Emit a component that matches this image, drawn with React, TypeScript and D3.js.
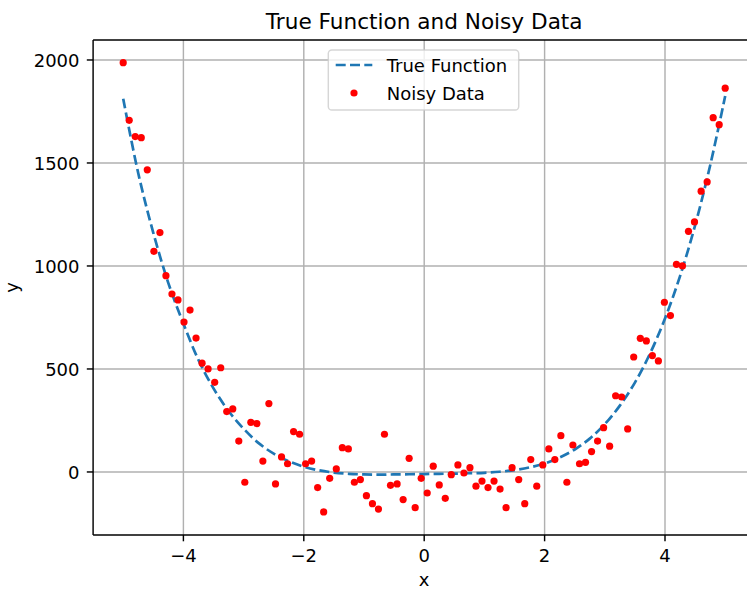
import React from 'react';
import * as d3 from 'd3';

// ---- data ----
const noisyX = [
  -5.0, -4.9, -4.8, -4.7, -4.6, -4.49, -4.39, -4.29, -4.19, -4.09,
  -3.99, -3.89, -3.79, -3.69, -3.59, -3.48, -3.38, -3.28, -3.18, -3.08,
  -2.98, -2.88, -2.78, -2.68, -2.58, -2.47, -2.37, -2.27, -2.17, -2.07,
  -1.97, -1.87, -1.77, -1.67, -1.57, -1.46, -1.36, -1.26, -1.16, -1.06,
  -0.96, -0.86, -0.76, -0.66, -0.56, -0.45, -0.35, -0.25, -0.15, -0.05,
  0.05, 0.15, 0.25, 0.35, 0.45, 0.56, 0.66, 0.76, 0.86, 0.96,
  1.06, 1.16, 1.26, 1.36, 1.46, 1.57, 1.67, 1.77, 1.87, 1.97,
  2.07, 2.17, 2.27, 2.37, 2.47, 2.58, 2.68, 2.78, 2.88, 2.98,
  3.08, 3.18, 3.28, 3.38, 3.48, 3.59, 3.69, 3.79, 3.89, 3.99,
  4.09, 4.19, 4.29, 4.39, 4.49, 4.6, 4.7, 4.8, 4.9, 5.0,
];
const noisyY = [
  1987, 1707, 1628, 1623, 1467, 1071, 1162, 953, 864, 835,
  728, 786, 650, 528, 500, 435, 506, 293, 306, 150,
  -50, 241, 235, 53, 332, -58, 73, 40, 196, 183,
  40, 53, -76, -194, -31, 15, 118, 112, -50, -37,
  -115, -154, -180, 183, -65, -58, -134, 66, -173, -31,
  -102, 28, -63, -128, -13, 34, -5, 21, -69, -44,
  -76, -44, -83, -173, 21, -37, -154, 60, -69, 34,
  112, 60, 176, -50, 131, 40, 47, 99, 150, 215,
  125, 370, 364, 209, 558, 649, 636, 565, 539, 824,
  759, 1008, 1000, 1168, 1214, 1363, 1408, 1720, 1686, 1863,
];
const trueX = [
  -5, -4.75, -4.5, -4.25, -4, -3.75, -3.5, -3.25, -3, -2.75, -2.5, -2.25, -2, -1.75,
  -1.5, -1.25, -1, -0.75, -0.5, -0.25, 0, 0.25, 0.5, 0.75, 1, 1.25, 1.5, 1.75,
  2, 2.25, 2.5, 2.75, 3, 3.25, 3.5, 3.75, 4, 4.25, 4.5, 4.75, 5,
];
const trueY = [
  1812, 1450, 1161, 917, 720, 544, 406, 296, 210, 140, 89, 52, 25, 8,
  -3, -9, -12, -13, -12, -11, -10, -9, -8, -6, -4, 1, 9, 22,
  41, 70, 109, 162, 232, 322, 434, 574, 745, 951, 1197, 1488, 1825,
];
const xTicks = [-4, -2, 0, 2, 4];
const yTicks = [0, 500, 1000, 1500, 2000];
const titleText = 'True Function and Noisy Data';
const xLabel = 'x';
const yLabel = 'y';
const legendLabels = ['True Function', 'Noisy Data'];

const W = 747;
const H = 590;
const L = 93.1;
const R = 755.3;
const T = 40;
const B = 535;
const FONT = '"DejaVu Sans", sans-serif';
const BLUE = '#1f77b4';

const fmt = (v: number) => (v < 0 ? '\u2212' + Math.abs(v) : String(v));

export default function App() {
  const x = d3.scaleLinear().domain([-5.5, 5.5]).range([L, R]);
  const y = d3.scaleLinear().domain([-306, 2097]).range([B, T]);
  const line = d3
    .line<number>()
    .x((_, i) => x(trueX[i]))
    .y((d) => y(d))
    .curve(d3.curveCatmullRom.alpha(0.5));
  const pathD = line(trueY) || '';

  return (
    <svg
      width={W}
      height={H}
      style={{ position: 'absolute', left: 0, top: 0, background: '#fff' }}
      fontFamily={FONT}
    >
      <defs>
        <clipPath id="plotClip">
          <rect x={L} y={T} width={R - L} height={B - T} />
        </clipPath>
      </defs>
      <rect x={0} y={0} width={W} height={H} fill="#fff" />
      {/* grid */}
      <g stroke="#b0b0b0" strokeWidth={1.44}>
        {xTicks.map((t) => (
          <line key={'gx' + t} x1={x(t)} x2={x(t)} y1={T} y2={B} />
        ))}
        {yTicks.map((t) => (
          <line key={'gy' + t} x1={L} x2={R} y1={y(t)} y2={y(t)} />
        ))}
      </g>
      <g clipPath="url(#plotClip)">
        <path d={pathD} fill="none" stroke={BLUE} strokeWidth={2.7} strokeDasharray="10,4.3" />
        {noisyY.map((v, i) => (
          <circle key={i} cx={x(noisyX[i])} cy={y(v)} r={3.6} fill="red" />
        ))}
      </g>
      {/* spines */}
      <g stroke="#000" strokeWidth={1.44} fill="none">
        <line x1={L} x2={L} y1={T} y2={B} />
        <line x1={L} x2={R} y1={B} y2={B} />
        <line x1={L} x2={R} y1={T} y2={T} />
        <line x1={R} x2={R} y1={T} y2={B} />
      </g>
      {/* ticks */}
      <g stroke="#000" strokeWidth={1.44}>
        {xTicks.map((t) => (
          <line key={'tx' + t} x1={x(t)} x2={x(t)} y1={B} y2={B + 6.3} />
        ))}
        {yTicks.map((t) => (
          <line key={'ty' + t} x1={L - 6.3} x2={L} y1={y(t)} y2={y(t)} />
        ))}
      </g>
      <g fontSize={18} fill="#000">
        {xTicks.map((t) => (
          <text key={'lx' + t} x={x(t)} y={562} textAnchor="middle">
            {fmt(t)}
          </text>
        ))}
        {yTicks.map((t) => (
          <text key={'ly' + t} x={79.5} y={y(t) + 7} textAnchor="end">
            {fmt(t)}
          </text>
        ))}
        <text x={(L + R) / 2} y={585.5} textAnchor="middle">
          {xLabel}
        </text>
        <text transform={`translate(17.5,${(T + B) / 2}) rotate(-90)`} textAnchor="middle">
          {yLabel}
        </text>
      </g>
      <text x={(L + R) / 2} y={28.5} textAnchor="middle" fontSize={21.6} fill="#000">
        {titleText}
      </text>
      {/* legend */}
      <g>
        <rect
          x={328.3}
          y={50}
          width={190.4}
          height={60}
          rx={3.6}
          ry={3.6}
          fill="#fff"
          fillOpacity={0.8}
          stroke="#cccccc"
          strokeOpacity={0.8}
          strokeWidth={1.44}
        />
        <line x1={335.7} x2={372.3} y1={65} y2={65} stroke={BLUE} strokeWidth={2.7} strokeDasharray="10,4.3" />
        <circle cx={354} cy={93} r={3.6} fill="red" />
        <text x={386.7} y={72} fontSize={18} fill="#000">
          {legendLabels[0]}
        </text>
        <text x={386.7} y={100} fontSize={18} fill="#000">
          {legendLabels[1]}
        </text>
      </g>
    </svg>
  );
}
